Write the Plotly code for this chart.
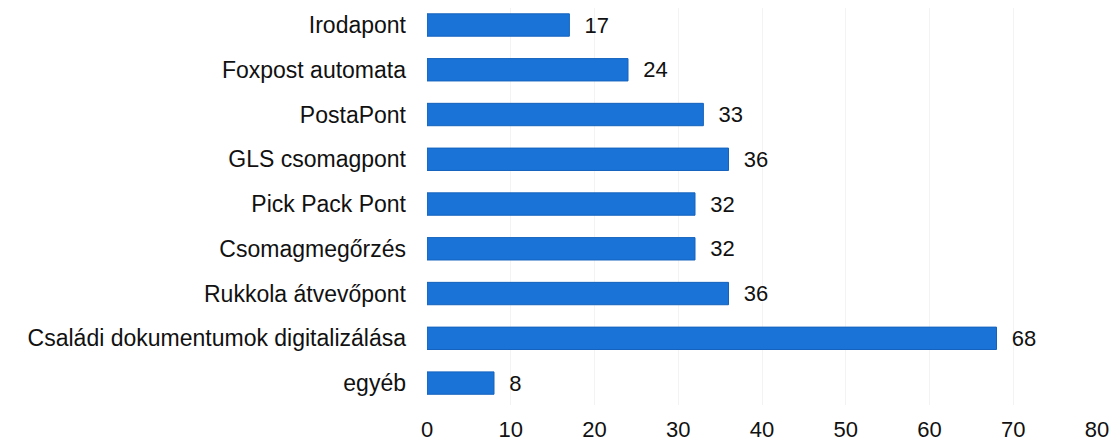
import plotly.graph_objects as go

categories = ["Irodapont", "Foxpost automata", "PostaPont", "GLS csomagpont",
              "Pick Pack Pont", "Csomagmegőrzés", "Rukkola átvevőpont",
              "Családi dokumentumok digitalizálása", "egyéb"]
values = [17, 24, 33, 36, 32, 32, 36, 68, 8]
x_ticks = [0, 10, 20, 30, 40, 50, 60, 70, 80]

fig = go.Figure(go.Bar(
    x=values, y=categories, orientation="h",
    marker=dict(color="#1a74d8", line=dict(color="#1462bd", width=1)),
    text=["  " + str(v) for v in values], textposition="outside",
    constraintext="none",
    textfont=dict(size=22, color="#111111", family="Liberation Sans, Arial"),
    cliponaxis=False, width=0.5,
))
fig.update_layout(
    width=1117, height=443,
    margin=dict(l=419, r=28, t=0, b=46),
    paper_bgcolor="white", plot_bgcolor="white",
    font=dict(family="Liberation Sans, Arial", size=23, color="#111111"),
    showlegend=False,
)
fig.update_yaxes(range=[8.49, -0.38], ticks="", showgrid=False, ticklabelstandoff=20)
fig.update_xaxes(range=[0, 80], tickvals=x_ticks, showgrid=True, gridcolor="#f3f3f3",
                 zeroline=False, ticks="", ticklabelstandoff=9, tickfont=dict(size=22))
fig.write_html("out.html")
